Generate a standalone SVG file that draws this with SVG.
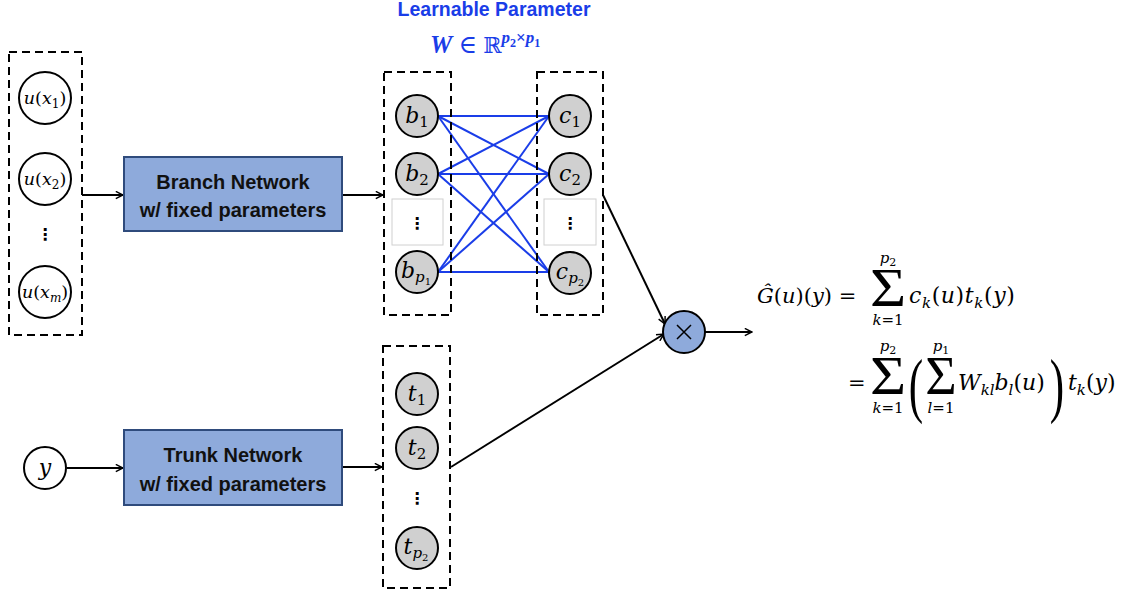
<svg xmlns="http://www.w3.org/2000/svg" width="1125" height="596" viewBox="0 0 1125 596">
<style>
.dash{fill:none;stroke:#000;stroke-width:2;stroke-dasharray:8 5}
.inp{fill:#fff;stroke:#000;stroke-width:2}
.gray{fill:#d0d0d0;stroke:#000;stroke-width:2}
.net{fill:#8eaadb;stroke:#2f4b7c;stroke-width:2}
.nt{font-family:"Liberation Sans",Arial,sans-serif;font-weight:bold;font-size:20px;fill:#111;text-anchor:middle}
.m{font-family:"DejaVu Serif","Liberation Serif",serif;font-style:italic;fill:#000}
.r{font-style:normal}
.sig{font-family:"Liberation Serif","DejaVu Serif",serif;font-size:54px;fill:#000;text-anchor:middle}
.vd{font-family:"DejaVu Sans",sans-serif;font-size:16px;font-weight:bold;fill:#000;text-anchor:middle}
.arr{stroke:#000;stroke-width:2;fill:none;marker-end:url(#ah)}
.bl{stroke:#1a3de8;stroke-width:2}
.dotbox{fill:#fff;stroke:#d0d0d0;stroke-width:1}
</style>
<defs>
<marker id="ah" viewBox="0 0 10 10" refX="9" refY="5" markerWidth="9" markerHeight="9" markerUnits="userSpaceOnUse" orient="auto">
<path d="M1,1 L9,5 L1,9" fill="none" stroke="#000" stroke-width="1.6"/>
</marker>
</defs>

<g id="title">
<text x="494" y="16" font-family="Liberation Sans,Arial,sans-serif" font-weight="bold" font-size="19.5" fill="#1a3de8" text-anchor="middle">Learnable Parameter</text>
<text x="430" y="53" font-family="Liberation Serif,DejaVu Serif,serif" font-size="25" fill="#1a3de8"><tspan font-weight="bold" font-style="italic">W</tspan> ∈ <tspan font-family="DejaVu Serif,serif" font-size="22">ℝ</tspan><tspan font-weight="bold" font-size="17" dy="-10" font-style="italic">p</tspan><tspan font-weight="bold" font-size="12" dy="4">2</tspan><tspan font-weight="bold" font-size="17" dy="-4">×</tspan><tspan font-weight="bold" font-size="17" font-style="italic">p</tspan><tspan font-weight="bold" font-size="12" dy="4">1</tspan></text>
</g>

<g id="connectors">
<line class="arr" x1="82" y1="195" x2="123" y2="195"/>
<line class="arr" x1="342" y1="195" x2="383" y2="195"/>
<line class="arr" x1="67" y1="468" x2="123" y2="468"/>
<line class="arr" x1="342" y1="467" x2="382" y2="467"/>
<line class="arr" x1="603" y1="195" x2="665" y2="324"/>
<line class="arr" x1="451" y1="467" x2="664" y2="334"/>
<line class="arr" x1="705" y1="332" x2="752" y2="332"/>
<g id="weights">
<line class="bl" x1="438" y1="116" x2="549" y2="116"/>
<line class="bl" x1="438" y1="116" x2="549" y2="174"/>
<line class="bl" x1="438" y1="116" x2="549" y2="272"/>
<line class="bl" x1="438" y1="174" x2="549" y2="116"/>
<line class="bl" x1="438" y1="174" x2="549" y2="174"/>
<line class="bl" x1="438" y1="174" x2="549" y2="272"/>
<line class="bl" x1="438" y1="272" x2="549" y2="116"/>
<line class="bl" x1="438" y1="272" x2="549" y2="174"/>
<line class="bl" x1="438" y1="272" x2="549" y2="272"/>
</g>
</g>

<g id="input-u">
<rect class="dash" x="9" y="52" width="73" height="283"/>
<circle class="inp" cx="45" cy="98" r="26"/>
<text class="m" x="45" y="104" font-size="17.5" text-anchor="middle">u<tspan class="r">(</tspan>x<tspan class="r" font-size="12" dy="4">1</tspan><tspan class="r" dy="-4">)</tspan></text>
<circle class="inp" cx="45" cy="179" r="26"/>
<text class="m" x="45" y="185" font-size="17.5" text-anchor="middle">u<tspan class="r">(</tspan>x<tspan class="r" font-size="12" dy="4">2</tspan><tspan class="r" dy="-4">)</tspan></text>
<text class="vd" x="45" y="240" font-size="17">⋮</text>
<circle class="inp" cx="45" cy="292" r="26"/>
<text class="m" x="45" y="298" font-size="17.5" text-anchor="middle">u<tspan class="r">(</tspan>x<tspan font-size="12" dy="4">m</tspan><tspan class="r" dy="-4">)</tspan></text>
</g>

<g id="input-y">
<circle class="inp" cx="45" cy="468" r="21"/>
<text class="m" x="45" y="475" font-size="22" text-anchor="middle">y</text>
</g>

<g id="branch">
<rect class="net" x="124" y="157" width="218" height="74"/>
<text class="nt" x="233" y="189">Branch Network</text>
<text class="nt" x="233" y="217">w/ fixed parameters</text>
</g>

<g id="trunk">
<rect class="net" x="124" y="430" width="218" height="75"/>
<text class="nt" x="233" y="462">Trunk Network</text>
<text class="nt" x="233" y="491">w/ fixed parameters</text>
</g>

<g id="b-layer">
<rect class="dash" x="384" y="72" width="67" height="243"/>
<circle class="gray" cx="417" cy="116" r="21"/>
<text class="m" x="417" y="123" font-size="22" text-anchor="middle">b<tspan class="r" font-size="15" dy="4">1</tspan></text>
<circle class="gray" cx="417" cy="174" r="21"/>
<text class="m" x="417" y="181" font-size="22" text-anchor="middle">b<tspan class="r" font-size="15" dy="4">2</tspan></text>
<rect class="dotbox" x="392" y="199" width="51" height="46"/>
<text class="vd" x="417" y="229">⋮</text>
<circle class="gray" cx="417" cy="272" r="21"/>
<text class="m" x="416" y="278" font-size="22" text-anchor="middle">b<tspan font-size="15" dy="4">p</tspan><tspan class="r" font-size="10" dy="3">1</tspan></text>
</g>

<g id="c-layer">
<rect class="dash" x="537" y="72" width="66" height="243"/>
<circle class="gray" cx="570" cy="116" r="21"/>
<text class="m" x="570" y="123" font-size="22" text-anchor="middle">c<tspan class="r" font-size="15" dy="4">1</tspan></text>
<circle class="gray" cx="570" cy="174" r="21"/>
<text class="m" x="570" y="181" font-size="22" text-anchor="middle">c<tspan class="r" font-size="15" dy="4">2</tspan></text>
<rect class="dotbox" x="544" y="199" width="52" height="46"/>
<text class="vd" x="570" y="229">⋮</text>
<circle class="gray" cx="570" cy="273" r="21"/>
<text class="m" x="570" y="279" font-size="22" text-anchor="middle">c<tspan font-size="15" dy="4">p</tspan><tspan class="r" font-size="10" dy="3">2</tspan></text>
</g>

<g id="t-layer">
<rect class="dash" x="383" y="346" width="67" height="242"/>
<circle class="gray" cx="417" cy="394" r="21"/>
<text class="m" x="417" y="401" font-size="22" text-anchor="middle">t<tspan class="r" font-size="15" dy="4">1</tspan></text>
<circle class="gray" cx="417" cy="448" r="21"/>
<text class="m" x="417" y="455" font-size="22" text-anchor="middle">t<tspan class="r" font-size="15" dy="4">2</tspan></text>
<text class="vd" x="417" y="504">⋮</text>
<circle class="gray" cx="417" cy="548" r="21"/>
<text class="m" x="416" y="554" font-size="22" text-anchor="middle">t<tspan font-size="15" dy="4">p</tspan><tspan class="r" font-size="10" dy="3">2</tspan></text>
</g>

<g id="multiply">
<circle cx="684" cy="332" r="21" fill="#8eaadb" stroke="#000" stroke-width="2"/>
<path d="M677,325 L691,339 M691,325 L677,339" stroke="#000" stroke-width="1.5"/>
</g>

<g id="equation">
<text class="m" x="757" y="303" font-size="21">Ĝ<tspan class="r">(</tspan>u<tspan class="r">)(</tspan>y<tspan class="r">) =</tspan></text>
<text class="sig" x="888" y="306" transform="translate(888 0) scale(1.15 1) translate(-888 0)">Σ</text>
<text class="m" x="888" y="263" font-size="15" text-anchor="middle">p<tspan class="r" font-size="11" dy="3">2</tspan></text>
<text class="m" x="888" y="325" font-size="15" text-anchor="middle">k<tspan class="r">=1</tspan></text>
<text class="m" x="909" y="303" font-size="22" letter-spacing="0.6">c<tspan font-size="15" dy="5">k</tspan><tspan class="r" dy="-5">(</tspan>u<tspan class="r">)</tspan>t<tspan font-size="15" dy="5">k</tspan><tspan class="r" dy="-5">(</tspan>y<tspan class="r">)</tspan></text>

<text x="848" y="390" font-family="DejaVu Serif,serif" font-size="21">=</text>
<text class="sig" x="888" y="394" transform="translate(888 0) scale(1.15 1) translate(-888 0)">Σ</text>
<text class="m" x="888" y="351" font-size="15" text-anchor="middle">p<tspan class="r" font-size="11" dy="3">2</tspan></text>
<text class="m" x="888" y="413" font-size="15" text-anchor="middle">k<tspan class="r">=1</tspan></text>
<text x="916" y="409" font-family="Liberation Serif,serif" font-size="72" text-anchor="middle" transform="translate(916 0) scale(0.6 1) translate(-916 0)">(</text>
<text class="sig" x="941" y="394">Σ</text>
<text class="m" x="941" y="351" font-size="15" text-anchor="middle">p<tspan class="r" font-size="11" dy="3">1</tspan></text>
<text class="m" x="941" y="413" font-size="15" text-anchor="middle">l<tspan class="r">=1</tspan></text>
<text class="m" x="958" y="390" font-size="22">W<tspan font-size="15" dy="5">kl</tspan><tspan dy="-5">b</tspan><tspan font-size="15" dy="5">l</tspan><tspan class="r" dy="-5">(</tspan>u<tspan class="r">)</tspan></text>
<text x="1057" y="409" font-family="Liberation Serif,serif" font-size="72" text-anchor="middle" transform="translate(1057 0) scale(0.6 1) translate(-1057 0)">)</text>
<text class="m" x="1068" y="390" font-size="22">t<tspan font-size="15" dy="5">k</tspan><tspan class="r" dy="-5">(</tspan>y<tspan class="r">)</tspan></text>
</g>
</svg>
